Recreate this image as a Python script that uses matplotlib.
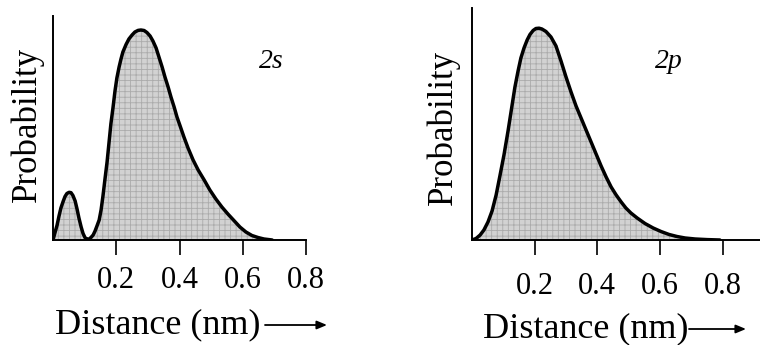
import matplotlib
matplotlib.use("Agg")
import matplotlib.pyplot as plt

# radial probability (arbitrary units)
r_2s = [0.0, 0.006, 0.013, 0.019, 0.025, 0.032, 0.038, 0.044, 0.051, 0.057,
        0.063, 0.070, 0.076, 0.082, 0.089, 0.095, 0.101, 0.108, 0.114, 0.120,
        0.127, 0.133, 0.139, 0.146, 0.152, 0.158, 0.164, 0.171, 0.177, 0.183,
        0.190, 0.196, 0.202, 0.209, 0.215, 0.221, 0.231, 0.240, 0.250, 0.259,
        0.269, 0.278, 0.288, 0.297, 0.307, 0.316, 0.326, 0.335, 0.345, 0.354,
        0.364, 0.373, 0.383, 0.392, 0.402, 0.414, 0.427, 0.443, 0.459, 0.478,
        0.496, 0.515, 0.534, 0.553, 0.572, 0.591, 0.610, 0.629, 0.648, 0.667,
        0.693]
p_2s = [0, 7, 15, 24, 32, 38.5, 43.5, 46.5, 47.7, 47.3,
        44.5, 39, 31, 22, 13, 6.5, 2.5, 0.5, 1, 2.5,
        5, 9, 14, 20, 30, 44, 60, 78, 97, 116,
        133, 149, 162, 173, 181, 188, 195.5, 201, 205, 208,
        209.6, 210, 209.5, 207.5, 204, 199, 192, 183, 173, 163,
        153, 143, 133, 123, 114, 103, 92, 80, 70, 60,
        50, 41, 33, 26, 19.5, 13, 8, 4.5, 2.5, 1,
        0]

r_2p = [0.0, 0.013, 0.026, 0.038, 0.051, 0.064, 0.077, 0.089, 0.102, 0.115,
        0.128, 0.137, 0.147, 0.156, 0.166, 0.176, 0.185, 0.195, 0.204, 0.214,
        0.223, 0.236, 0.252, 0.268, 0.284, 0.300, 0.316, 0.332, 0.348, 0.364,
        0.380, 0.396, 0.412, 0.428, 0.444, 0.460, 0.476, 0.491, 0.507, 0.527,
        0.552, 0.578, 0.603, 0.629, 0.654, 0.680, 0.712, 0.750, 0.791]
p_2p = [0, 1.5, 5, 10, 18, 29, 45, 64, 85, 109,
        135, 153, 169, 182, 192, 200, 205.5, 209.5, 211.5, 211.8,
        211, 208.5, 203, 194, 179, 163, 148, 134, 122, 110,
        98, 86, 74, 63, 53, 45, 38, 32, 27, 22,
        16.5, 12, 8.5, 5.5, 3.5, 2, 1, 0.4, 0]

ticks = [0.2, 0.4, 0.6, 0.8]
tick_labels = ["0.2", "0.4", "0.6", "0.8"]

plt.rcParams["font.family"] = ["Liberation Serif", "DejaVu Serif"]
plt.rcParams["hatch.linewidth"] = 0.6

W, H = 760, 345
fig = plt.figure(figsize=(W / 100, H / 100), dpi=100)


def px(x, y):
    return x / W, 1 - y / H


def panel(rect, r, p, xmax, ytop, name, name_xy, label_x, label_y, arrow, ylab_xy, tick_pad):
    ax = fig.add_axes(rect)
    ax.fill_between(r, p, color="#d2d2d2", hatch="+++", edgecolor="#ababab", linewidth=0)
    ax.plot(r, p, color="black", lw=2.5, solid_capstyle="round", solid_joinstyle="round")
    ax.set_xlim(0, xmax)
    ax.set_ylim(0, ytop)
    for s in ["top", "right"]:
        ax.spines[s].set_visible(False)
    for s in ["left", "bottom"]:
        ax.spines[s].set_linewidth(1.4)
    ax.set_yticks([])
    ax.set_xticks(ticks)
    ax.set_xticklabels(tick_labels, fontsize=22)
    ax.tick_params(axis="x", direction="out", length=11, width=1.2, pad=tick_pad)
    ax.patch.set_alpha(0)

    fig.text(*px(*name_xy), name, fontsize=20, style="italic", ha="center", va="baseline")
    fig.text(*px(label_x, label_y), "Distance (nm)", fontsize=26, ha="left", va="baseline")
    ax.annotate("", xy=px(arrow[1], arrow[2]), xytext=px(arrow[0], arrow[2]),
                xycoords="figure fraction", textcoords="figure fraction",
                arrowprops=dict(arrowstyle="-|>,head_length=0.6,head_width=0.25",
                                color="black", lw=1.3, shrinkA=0, shrinkB=0))
    fig.text(*px(*ylab_xy), "Probability", fontsize=25, rotation=90, ha="center", va="center")
    return ax


panel([53 / W, 105 / H, 253 / W, 224 / H], r_2s, p_2s, 0.8, 224, "2s",
      (271, 68), 55, 333, (265, 327, 325), (27, 124), 8)
panel([472 / W, 105 / H, 288 / W, 232 / H], r_2p, p_2p, 0.919, 232, "2p",
      (669, 68), 483, 337, (689, 746, 329), (443, 127), 12)

fig.savefig("out.png", dpi=100)
